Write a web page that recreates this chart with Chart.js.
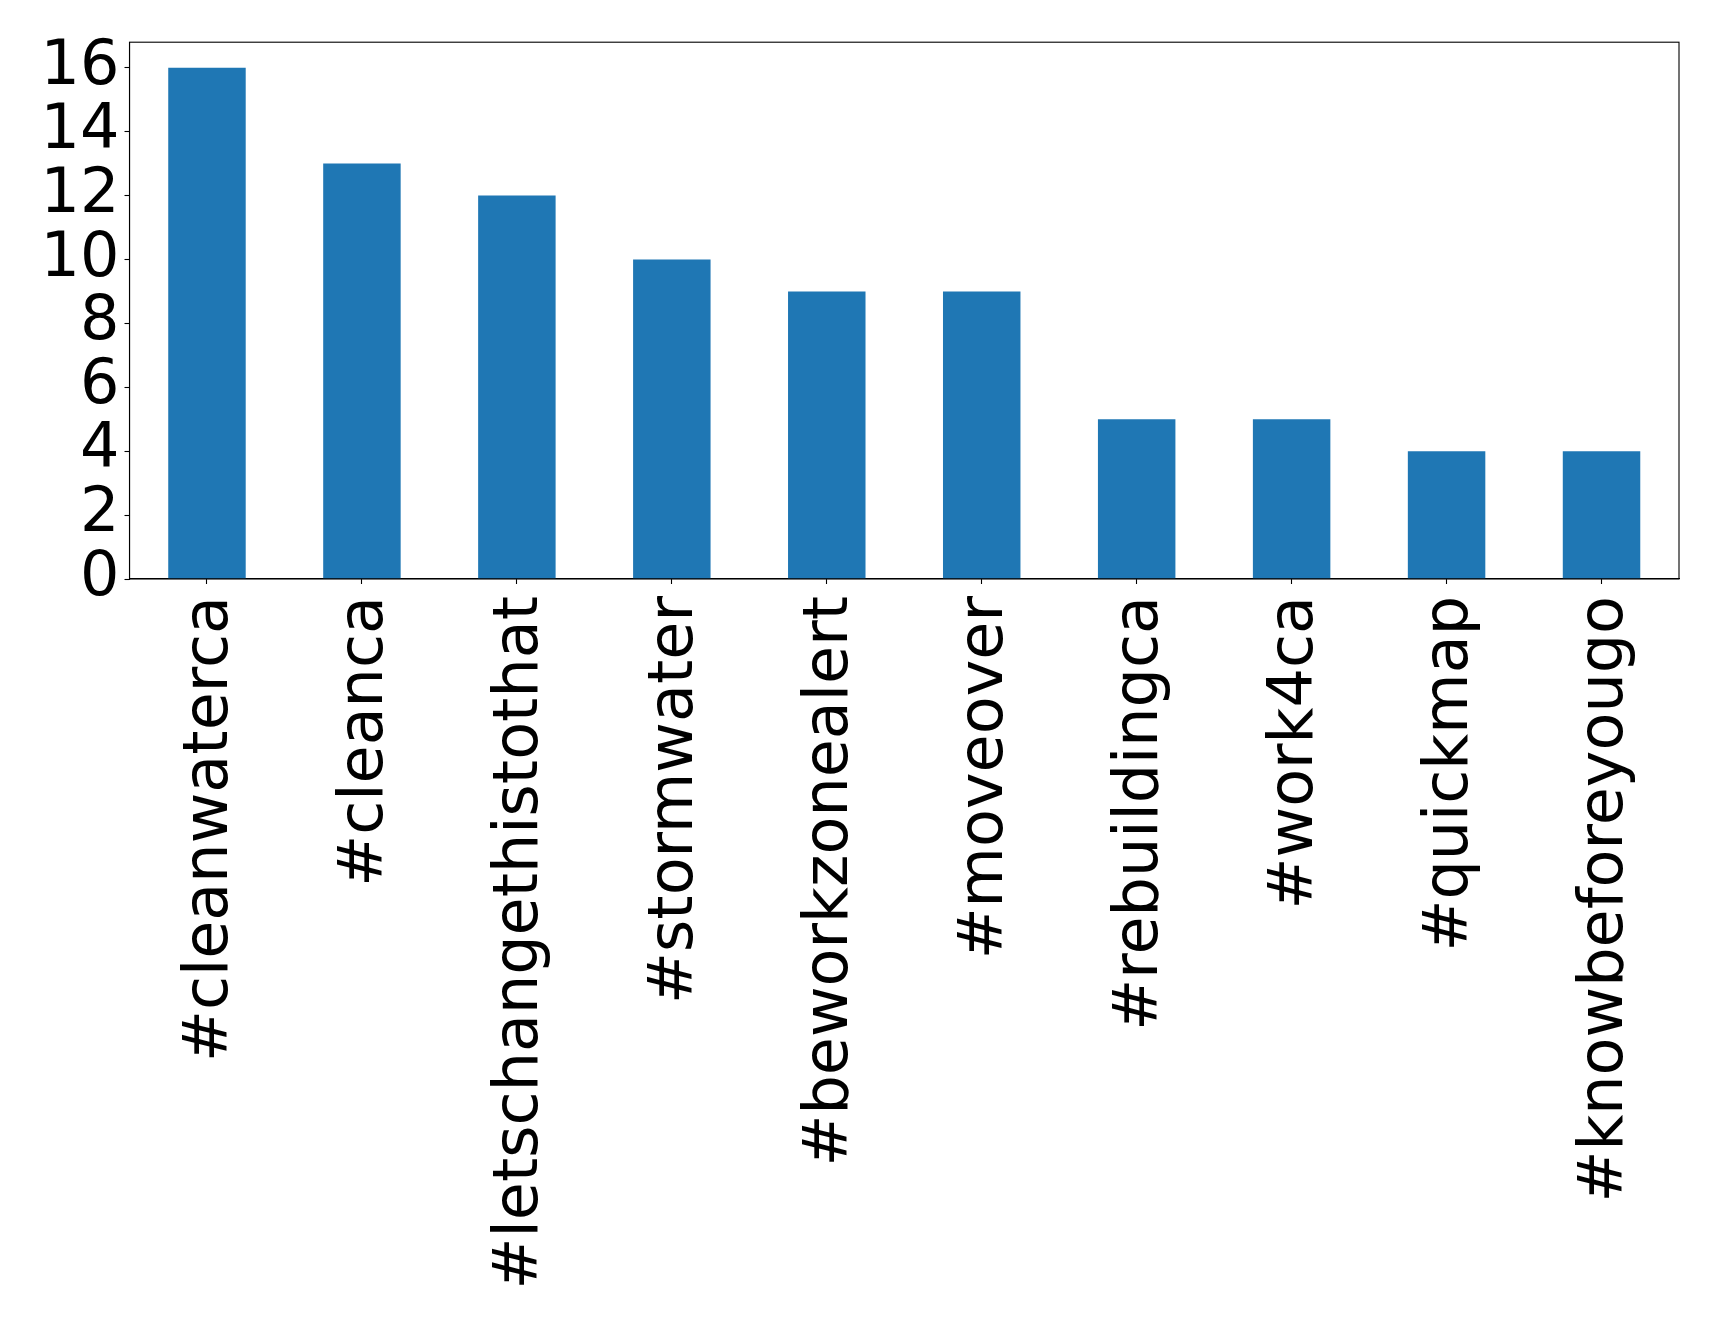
<!DOCTYPE html>
<html>
<head>
<meta charset="utf-8">
<script src="https://cdn.jsdelivr.net/npm/chart.js@4/dist/chart.umd.min.js"></script>
<style>
  html, body { margin: 0; padding: 0; background: #ffffff; }
  #wrap { width: 1719px; height: 1327px; }
</style>
</head>
<body>
<div id="wrap"><canvas id="c" width="1719" height="1327"></canvas></div>
<script>
const categories = ["#cleanwaterca", "#cleanca", "#letschangethistothat", "#stormwater", "#beworkzonealert", "#moveover", "#rebuildingca", "#work4ca", "#quickmap", "#knowbeforeyougo"];
const counts = [16, 13, 12, 10, 9, 9, 5, 5, 4, 4];
const yTicks = [0, 2, 4, 6, 8, 10, 12, 14, 16];
const yMax = 16.8;

const frame = {
  id: 'frame',
  afterDatasetsDraw(chart) {
    const a = chart.chartArea, ctx = chart.ctx;
    ctx.save();
    ctx.strokeStyle = '#000';
    ctx.lineWidth = 1.1;
    ctx.strokeRect(a.left, a.top, a.right - a.left, a.bottom - a.top);
    ctx.restore();
  }
};

new Chart(document.getElementById('c'), {
  type: 'bar',
  data: {
    labels: categories,
    datasets: [{
      data: counts,
      backgroundColor: '#1f77b4',
      borderWidth: 0,
      categoryPercentage: 1.0,
      barPercentage: 0.5
    }]
  },
  options: {
    responsive: false,
    animation: false,
    devicePixelRatio: 1,
    layout: { padding: { left: 0, top: 40, right: 40, bottom: 0 } },
    plugins: { legend: { display: false }, tooltip: { enabled: false } },
    scales: {
      x: {
        type: 'category',
        offset: true,
        grid: { display: true, offset: false, drawOnChartArea: false, drawTicks: true, tickLength: 5, tickColor: '#000', tickWidth: 1.1 },
        border: { display: true, color: '#000', width: 1.1 },
        ticks: {
          autoSkip: false,
          maxRotation: 90,
          minRotation: 90,
          padding: 12,
          labelOffset: 4,
          color: '#000',
          font: { family: 'DejaVu Sans', size: 62 }
        },
        afterFit(scale) { scale.height = 748; }
      },
      y: {
        min: 0,
        max: yMax,
        afterBuildTicks(scale) { scale.ticks = yTicks.map(v => ({ value: v })); },
        grid: { display: true, drawOnChartArea: false, drawTicks: true, tickLength: 5, tickColor: '#000', tickWidth: 1.1 },
        border: { display: true, color: '#000', width: 1.1 },
        ticks: {
          autoSkip: false,
          padding: 5,
          color: '#000',
          font: { family: 'DejaVu Sans', size: 62 }
        },
        afterFit(scale) { scale.width = 129.5; }
      }
    }
  },
  plugins: [frame]
});
</script>
</body>
</html>
